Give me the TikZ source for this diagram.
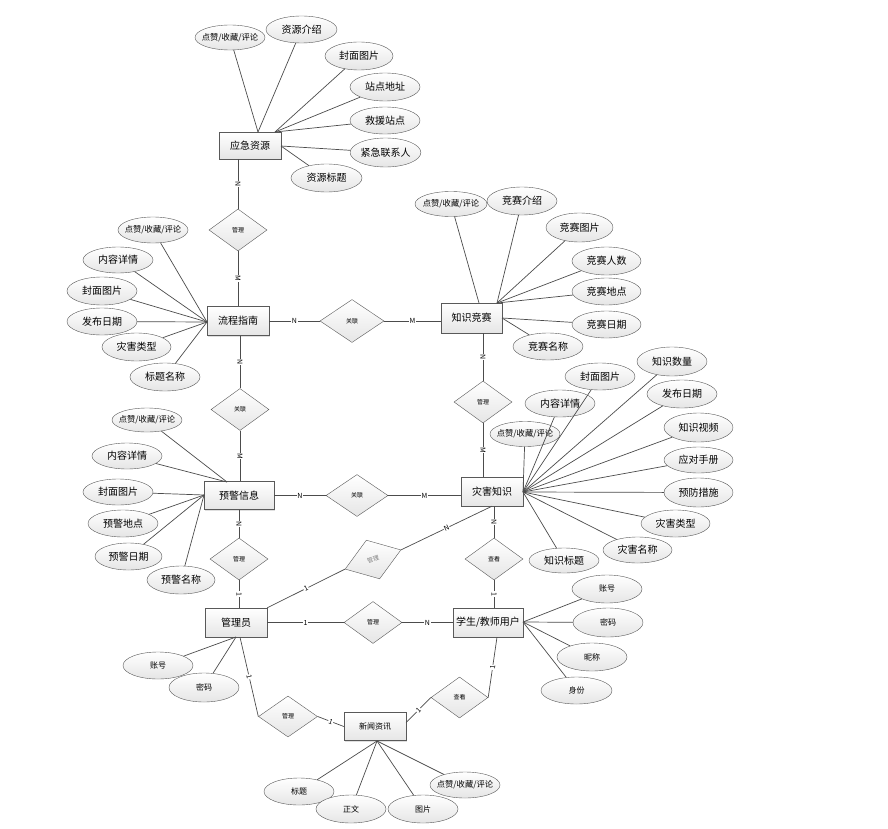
\documentclass[tikz,border=0pt]{standalone}
\usepackage{fontspec}
\setmainfont{Noto Sans CJK SC}
\usetikzlibrary{shapes.geometric,shadows,calc}
\begin{document}
\begin{tikzpicture}[x=1pt,y=-1pt,
  ent/.style={draw=black!65, rectangle, minimum width=62pt, minimum height=28pt, inner sep=1pt, top color=white, bottom color=gray!20, font=\fontsize{10}{12}\selectfont, drop shadow={shadow xshift=1pt,shadow yshift=-1pt,opacity=0.25}},
  att/.style={draw=black!65, ellipse, minimum width=70pt, minimum height=27pt, inner sep=0pt, top color=white, bottom color=gray!20, font=\fontsize{10}{12}\selectfont},
  attS/.style={att, font=\fontsize{8.3}{9}\selectfont, inner xsep=-7pt},
  attM/.style={att, font=\fontsize{8}{9}\selectfont},
  rel/.style={draw=black!65, diamond, minimum width=58pt, minimum height=42pt, inner sep=0pt, top color=white, bottom color=gray!20, font=\fontsize{6}{7}\selectfont},
  conn/.style={draw=black!70, line width=0.7pt},
  card/.style={fill=white, inner sep=0.6pt, font=\fontsize{7}{8}\selectfont, sloped}
]
\useasboundingbox[fill=white] (0,0) rectangle (888,829);

% entities
\node[ent, minimum height=27pt] (yj) at (250,145.5) {应急资源};
\node[ent, minimum height=30pt, minimum width=61pt] (zs) at (471.5,318) {知识竞赛};
\node[ent, minimum height=29pt] (lc) at (238,321) {流程指南};
\node[ent, minimum width=70pt] (yx) at (239,495.5) {预警信息};
\node[ent, minimum height=29pt] (zh) at (492,491.5) {灾害知识};
\node[ent, minimum height=29pt] (gl) at (236,622.5) {管理员};
\node[ent, minimum height=29pt, minimum width=70pt] (xs) at (488,622.5) {学生/教师用户};
\node[ent, font=\fontsize{8}{10}\selectfont] (xw) at (375,726.5) {新闻资讯};

% relationships
\node[rel] (d1) at (238,230) {管理};
\node[rel, minimum width=64pt, minimum height=43pt] (d2) at (352,321) {关联};
\node[rel] (d3) at (240,409.5) {关联};
\node[rel] (d4) at (483,402) {管理};
\node[rel, minimum width=62pt] (d5) at (357,495.5) {关联};
\node[rel] (d6) at (239,559) {管理};
\node[rel, rotate=19, minimum width=59pt, minimum height=41pt, text=black!50] (d7) at (373,559.5) {管理};
\node[rel] (d8) at (373,622.5) {管理};
\node[rel] (d9) at (494,559) {查看};
\node[rel, minimum width=59pt, minimum height=41pt] (d10) at (288,716.5) {管理};
\node[rel, minimum width=57pt, minimum height=41pt] (d11) at (459.5,697.5) {查看};

% attributes: 应急资源
\node[attS, minimum height=25pt] (a1) at (230,37.5) {点赞/收藏/评论};
\node[att, minimum width=71pt] (a2) at (301.5,29.5) {资源介绍};
\node[att, minimum width=68pt, minimum height=28pt] (a3) at (359,56) {封面图片};
\node[att, minimum height=28pt] (a4) at (385,87) {站点地址};
\node[att] (a5) at (385,120.5) {救援站点};
\node[att, minimum height=29pt] (a6) at (385.5,152.5) {紧急联系人};
\node[att, minimum width=71pt, minimum height=28pt] (a7) at (326.5,178) {资源标题};
% 知识竞赛
\node[attS, minimum width=72pt, minimum height=25pt] (b1) at (451,204) {点赞/收藏/评论};
\node[att, minimum height=28pt] (b2) at (522,201) {竞赛介绍};
\node[att, minimum width=67pt, minimum height=29pt] (b3) at (579.5,227.5) {竞赛图片};
\node[att, minimum width=69pt, minimum height=28pt] (b4) at (606.5,261) {竞赛人数};
\node[att, minimum width=69pt] (b5) at (606.5,291.5) {竞赛地点};
\node[att, minimum width=69pt] (b6) at (606.5,324.5) {竞赛日期};
\node[att] (b7) at (548,346.5) {竞赛名称};
% 流程指南
\node[attS, minimum height=26pt] (c1) at (153,230) {点赞/收藏/评论};
\node[att, minimum height=26pt] (c2) at (118,260) {内容详情};
\node[att, minimum height=28pt] (c3) at (102,291) {封面图片};
\node[att] (c4) at (102,321.5) {发布日期};
\node[att, minimum width=69pt, minimum height=28pt] (c5) at (136.5,347) {灾害类型};
\node[att, minimum height=28pt] (c6) at (165,377) {标题名称};
% 预警信息
\node[attS, minimum height=24pt] (e1) at (147,420) {点赞/收藏/评论};
\node[att, minimum height=26pt] (e2) at (127,456) {内容详情};
\node[att, minimum height=26pt] (e3) at (118,492) {封面图片};
\node[att] (e4) at (123,523.5) {预警地点};
\node[att, minimum width=67pt] (e5) at (128.5,556.5) {预警日期};
\node[att, minimum width=68pt, minimum height=28pt] (e6) at (181,580) {预警名称};
% 灾害知识
\node[attS, minimum height=25pt] (f1) at (525,434) {点赞/收藏/评论};
\node[att] (f2) at (560,403.5) {内容详情};
\node[att] (f3) at (600,376.5) {封面图片};
\node[att, minimum height=29pt] (f4) at (672,361.5) {知识数量};
\node[att, minimum height=28pt] (f5) at (682,394) {发布日期};
\node[att, minimum width=69pt, minimum height=29pt] (f6) at (698.5,427.5) {知识视频};
\node[att, minimum width=69pt, minimum height=26pt] (f7) at (698.5,460) {应对手册};
\node[att, minimum width=69pt, minimum height=29pt] (f8) at (698.5,492.5) {预防措施};
\node[att, minimum width=69pt] (f9) at (675.5,523.5) {灾害类型};
\node[att, minimum width=69pt, minimum height=26pt] (f10) at (637.5,550) {灾害名称};
\node[att, minimum height=25pt] (f11) at (564,560.5) {知识标题};
% 学生/教师用户
\node[attM, minimum height=28pt] (g1) at (607,589) {账号};
\node[attM, minimum height=29pt] (g2) at (608,622.5) {密码};
\node[attM, minimum height=28pt] (g3) at (592,657) {昵称};
\node[attM, minimum width=71pt] (g4) at (576.5,690.5) {身份};
% 管理员
\node[attM] (h1) at (158,665.5) {账号};
\node[attM, minimum height=29pt] (h2) at (204,687.5) {密码};
% 新闻资讯
\node[attM] (i1) at (299,791.5) {标题};
\node[attM, minimum height=28pt] (i2) at (351,809) {正文};
\node[attM, minimum height=28pt] (i3) at (423,809) {图片};
\node[attS, minimum height=26pt] (i4) at (465,785) {点赞/收藏/评论};

% convergence points
\coordinate (yjP1) at (258,132);
\coordinate (yjP2) at (275,132);
\coordinate (yjP3) at (281,146);
\coordinate (zsP1) at (479,303);
\coordinate (zsP2) at (497,303);
\coordinate (zsP3) at (502,318);
\coordinate (lcP) at (207,322);
\coordinate (yxP1) at (227,482);
\coordinate (yxP2) at (204,495);
\coordinate (zhP) at (523,492);
\coordinate (xsP) at (523,622);
\coordinate (glP) at (236,637);
\coordinate (xwP) at (377,741);

\foreach \n in {a1,a2} \draw[conn] (yjP1) -- (\n);
\foreach \n in {a3,a4,a5} \draw[conn] (yjP2) -- (\n);
\foreach \n in {a6,a7} \draw[conn] (yjP3) -- (\n);
\draw[conn] (zsP1) -- (b1);
\foreach \n in {b2,b3,b4,b5} \draw[conn] (zsP2) -- (\n);
\foreach \n in {b6,b7} \draw[conn] (zsP3) -- (\n);
\foreach \n in {c1,c2,c3,c4,c5,c6} \draw[conn] (lcP) -- (\n);
\foreach \n in {e1,e2} \draw[conn] (yxP1) -- (\n);
\foreach \n in {e3,e4,e5,e6} \draw[conn] (yxP2) -- (\n);
\foreach \n in {f1,f2,f3,f4,f5,f6,f7,f8,f9,f10,f11} \draw[conn] (zhP) -- (\n);
\foreach \n in {g1,g2,g3,g4} \draw[conn] (xsP) -- (\n);
\foreach \n in {h1,h2} \draw[conn] (glP) -- (\n);
\foreach \n in {i1,i2,i3,i4} \draw[conn] (xwP) -- (\n);

% relationship connectors
\draw[conn] (d1.north |- yj.south) -- node[card]{N} (d1.north);
\draw[conn] (d1.south) -- node[card]{M} (d1.south |- lc.north);
\draw[conn] (lc.east) -- node[card]{N} (d2.west);
\draw[conn] (d2.east) -- node[card]{M} (zs.west |- d2.east);
\draw[conn] (d3.north |- lc.south) -- node[card]{N} (d3.north);
\draw[conn] (d3.south) -- node[card]{M} (d3.south |- yx.north);
\draw[conn] (d4.north |- zs.south) -- node[card]{N} (d4.north);
\draw[conn] (d4.south) -- node[card]{M} (d4.south |- zh.north);
\draw[conn] (yx.east) -- node[card]{N} (d5.west);
\draw[conn] (d5.east) -- node[card]{M} (d5.east -| zh.west);
\draw[conn] (d6.north |- yx.south) -- node[card]{N} (d6.north);
\draw[conn] (d6.south) -- node[card]{1} (d6.south |- gl.north);
\draw[conn] (gl.north east) -- node[card]{1} (d7.west);
\draw[conn] (d7.east) -- node[card]{N} (zh.south);
\draw[conn] (gl.east) -- node[card]{1} (d8.west);
\draw[conn] (d8.east) -- node[card]{N} (xs.west);
\draw[conn] (d9.north |- zh.south) -- node[card]{N} (d9.north);
\draw[conn] (d9.south) -- node[card]{1} (d9.south |- xs.north);
\draw[conn] ([xshift=4pt]gl.south) -- node[card]{1} (d10.west);
\draw[conn] (d10.east) -- node[card]{1} (xw.west);
\draw[conn] ([xshift=9pt]xs.south) -- node[card]{1} (d11.east);
\draw[conn] (d11.west) -- node[card]{1} ($(xw.east)+(0,-4)$);
\end{tikzpicture}
\end{document}
